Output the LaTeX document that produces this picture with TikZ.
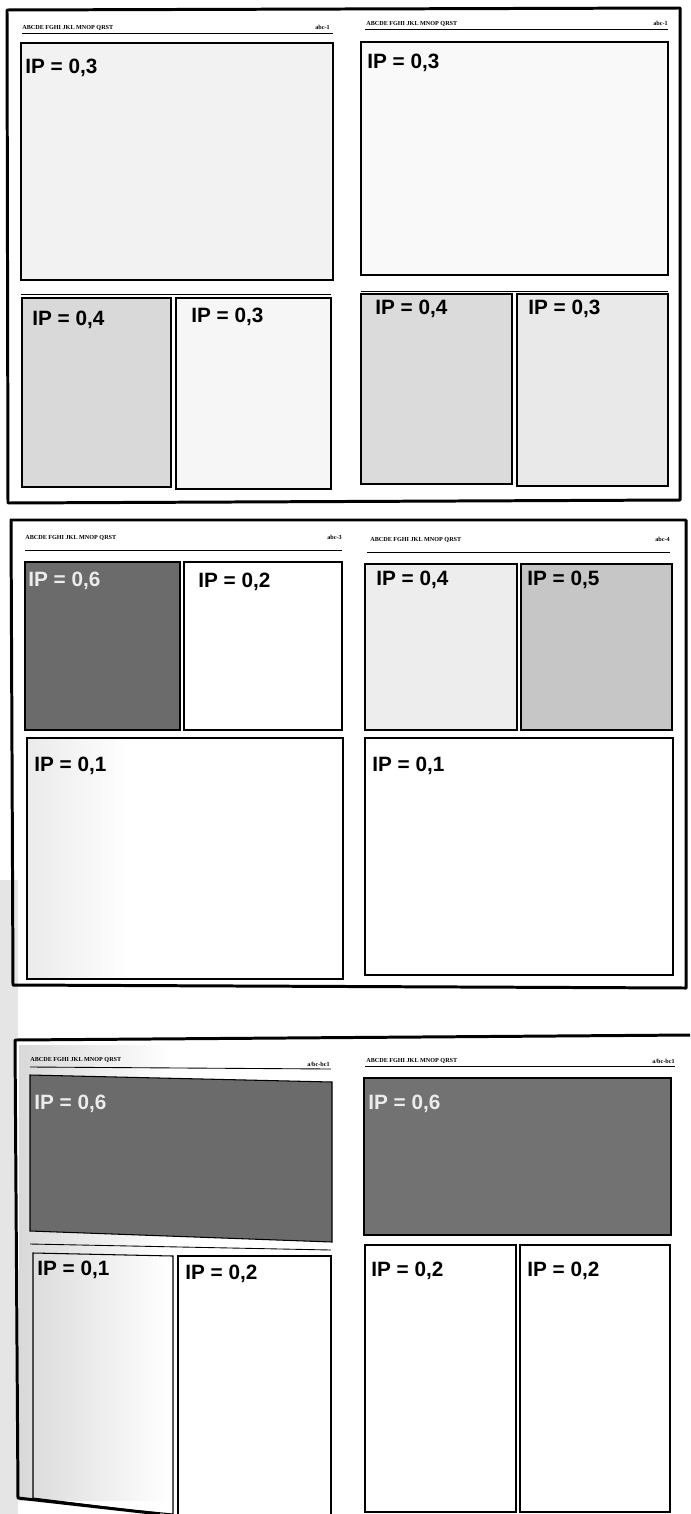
\documentclass[tikz,border=0pt]{standalone}
\usepackage{fontspec}
\setmainfont{Liberation Serif}
\newfontfamily\labfont{Liberation Sans}
\usepackage{tikz}
\usetikzlibrary{positioning}
\definecolor{darkpage}{gray}{0.42}
\definecolor{lightink}{gray}{0.92}

\begin{document}
\begin{tikzpicture}[x=0.02cm, y=-0.02cm,
    frame/.style={line width=1.7pt, line join=round},
    box/.style={draw, line width=0.6pt},
    rulez/.style={line width=0.5pt},
    iplab/.style={anchor=north west, inner sep=0pt,
                  font=\labfont\bfseries\fontsize{11.8}{14}\selectfont},
    head/.style={anchor=base west, inner sep=0pt,
                 font=\bfseries\fontsize{3.5}{4}\selectfont},
    folio/.style={anchor=base east, inner sep=0pt,
                  font=\bfseries\fontsize{3.5}{4}\selectfont}]
  \useasboundingbox (0,0) rectangle (690,1514);

  % gutter shadow at the lower left
  \fill[gray!20] (0,880) rectangle (18,1514);

  % ---------- spread 1 ----------
  \draw[frame] (7,10) -- (680,8) -- (680,500) -- (8,503) -- cycle;
  \node[head]  (hdA) at (22,30)  {ABCDE FGHI JKL MNOP QRST};
  \node[folio] (foA) at (330,30) {abc-1};
  \draw[rulez] (22,33) -- (333,33);
  \draw[box, fill=gray!10] (21,43) rectangle (333,280);
  \node[iplab] (ipA1) at (25,59) {IP = 0,3};
  \draw[rulez] (21,294) -- (331,294);
  \draw[box, fill=gray!30] (22,298) rectangle (171,487);
  \draw[box, fill=gray!7]  (176,298) rectangle (331,489);
  \node[iplab] (ipA2) at (32,311) {IP = 0,4};
  \node[iplab] (ipA3) at (191,308) {IP = 0,3};

  \node[head]  (hdB) at (366,26)  {ABCDE FGHI JKL MNOP QRST};
  \node[folio] (foB) at (668,26) {abc-1};
  \draw[rulez] (365,29) -- (668,29);
  \draw[box, fill=gray!5] (361,42) rectangle (668,275);
  \node[iplab] (ipB1) at (367,54) {IP = 0,3};
  \draw[rulez] (361,291) -- (668,291);
  \draw[box, fill=gray!28] (361,294) rectangle (512,484);
  \draw[box, fill=gray!17] (517,294) rectangle (668,486);
  \node[iplab] (ipB2) at (375,300) {IP = 0,4};
  \node[iplab] (ipB3) at (528,300) {IP = 0,3};

  % ---------- spread 2 ----------
  \draw[frame] (11,520) -- (686,520) -- (686,988) -- (13,985) -- cycle;
  \node[head]  (hdC) at (25,539)  {ABCDE FGHI JKL MNOP QRST};
  \node[folio] (foC) at (342,539) {abc-3};
  \draw[rulez] (25,550) -- (342,550);
  \draw[box, fill=darkpage] (25,562) rectangle (180,730);
  \draw[box, fill=white]    (184,562) rectangle (342,730);
  \node[iplab, text=lightink] (ipC1) at (28,572) {IP = 0,6};
  \node[iplab] (ipC2) at (198,573) {IP = 0,2};
  \draw[box, fill=white] (27,738) rectangle (343,979);
  \fill[left color=gray!16, right color=white] (28,739) rectangle (130,978);
  \draw[box] (27,738) rectangle (343,979);
  \node[iplab] (ipC3) at (34,757) {IP = 0,1};

  \node[head]  (hdD) at (370,541)  {ABCDE FGHI JKL MNOP QRST};
  \node[folio] (foD) at (670,541) {abc-4};
  \draw[rulez] (367,552) -- (670,552);
  \draw[box, fill=gray!14] (365,564) rectangle (517,730);
  \draw[box, fill=gray!45] (521,564) rectangle (672,730);
  \node[iplab] (ipD1) at (376,571) {IP = 0,4};
  \node[iplab] (ipD2) at (527,571) {IP = 0,5};
  \draw[box, fill=white] (365,738) rectangle (673,975);
  \node[iplab] (ipD3) at (372,757) {IP = 0,1};

  % ---------- spread 3 ----------
  \fill[white] (690,1035) -- (15,1040) -- (18,1498) -- (160,1514) -- (690,1514) -- cycle;
  \fill[left color=gray!30, right color=white] (19,1045) rectangle (170,1500);
  \draw[frame] (690,1035) -- (15,1040) -- (18,1498) -- (160,1514);
  \node[head]  (hdE) at (30,1061)  {ABCDE FGHI JKL MNOP QRST};
  \node[folio] (foE) at (330,1066) {a/bc-bc1};
  \draw[rulez] (30,1067) -- (331,1069);
  \draw[box, fill=darkpage] (30,1075) -- (332,1082) -- (332,1242) -- (30,1231) -- cycle;
  \node[iplab, text=lightink] (ipE1) at (34,1095) {IP = 0,6};
  \draw[rulez] (30,1244) -- (331,1250);
  \draw[box] (33,1253) -- (173,1256) -- (173,1514) -- (130,1510) -- (33,1498) -- cycle;
  \draw[box, fill=white] (178,1256) rectangle (331,1520);
  \node[iplab] (ipE2) at (37,1261) {IP = 0,1};
  \node[iplab] (ipE3) at (185,1265) {IP = 0,2};

  \node[head]  (hdF) at (366,1062)  {ABCDE FGHI JKL MNOP QRST};
  \node[folio] (foF) at (675,1063) {a/bc-bc1};
  \draw[rulez] (365,1066) -- (675,1066);
  \draw[box, fill=darkpage!95] (364,1078) rectangle (671,1235);
  \node[iplab, text=lightink] (ipF1) at (368,1095) {IP = 0,6};
  \draw[box] (365,1245) rectangle (516,1512);
  \draw[box] (520,1245) rectangle (670,1512);
  \node[iplab] (ipF2) at (371,1262) {IP = 0,2};
  \node[iplab] (ipF3) at (527,1262) {IP = 0,2};
\end{tikzpicture}
\end{document}
